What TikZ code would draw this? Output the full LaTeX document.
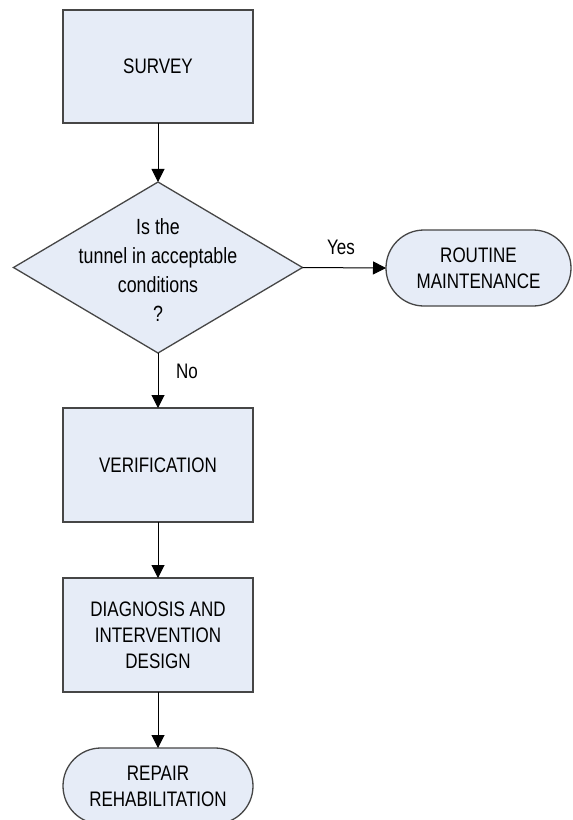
\documentclass[tikz,border=0pt]{standalone}
\usepackage{fontspec}
\usetikzlibrary{shapes.geometric,arrows.meta}
\newfontfamily\boxfont[FakeStretch=0.81]{Liberation Sans}
\definecolor{boxfill}{RGB}{230,236,247}
\definecolor{boxline}{RGB}{70,70,70}
\begin{document}
\begin{tikzpicture}[x=1pt,y=-1pt,
  every node/.style={inner sep=0pt, outer sep=0pt},
  procbox/.style={draw=boxline, fill=boxfill, line width=1.3pt, rectangle,
    minimum width=190pt, minimum height=114pt, align=center,
    font=\boxfont\fontsize{21}{26}\selectfont},
  termbox/.style={draw=boxline, fill=boxfill, line width=1.3pt, rectangle,
    rounded corners=38pt, minimum height=76pt, align=center,
    font=\boxfont\fontsize{21}{26}\selectfont},
  decbox/.style={draw=boxline, fill=boxfill, line width=1.3pt, diamond,
    minimum width=289pt, minimum height=171pt},
  dectext/.style={align=center, font=\boxfont\fontsize{22}{29}\selectfont},
  lbl/.style={font=\boxfont\fontsize{21}{26}\selectfont},
  conn/.style={draw=black, line width=1pt, -{Triangle[length=13pt,width=13pt]}}
]
\useasboundingbox (0,0) rectangle (573,820);
\fill[white] (0,0) rectangle (573,820);

\node[procbox, minimum height=113pt] (survey) at (158,66.5) {SURVEY};
\node[decbox] (dec) at (158,267.5) {};
\node[dectext] (dectxt) at (158,270) {Is the\\tunnel in acceptable\\conditions\\?};
\node[termbox, minimum width=185pt] (routine) at (478.5,268) {ROUTINE\\MAINTENANCE};
\node[procbox] (verif) at (158,465) {VERIFICATION};
\node[procbox] (diag) at (158,635) {DIAGNOSIS AND\\INTERVENTION\\DESIGN};
\node[termbox, minimum width=190pt] (repair) at (158,786) {REPAIR\\REHABILITATION};

\draw[conn] (survey) -- (dec);
\draw[conn] (dec.east) -- (routine.west);
\draw[conn] (dec.south) -- (verif.north);
\draw[conn] (verif) -- (diag);
\draw[conn] (diag) -- (repair);

\node[lbl] (yes) at (341,247) {Yes};
\node[lbl] (no) at (187,371) {No};
\end{tikzpicture}
\end{document}
